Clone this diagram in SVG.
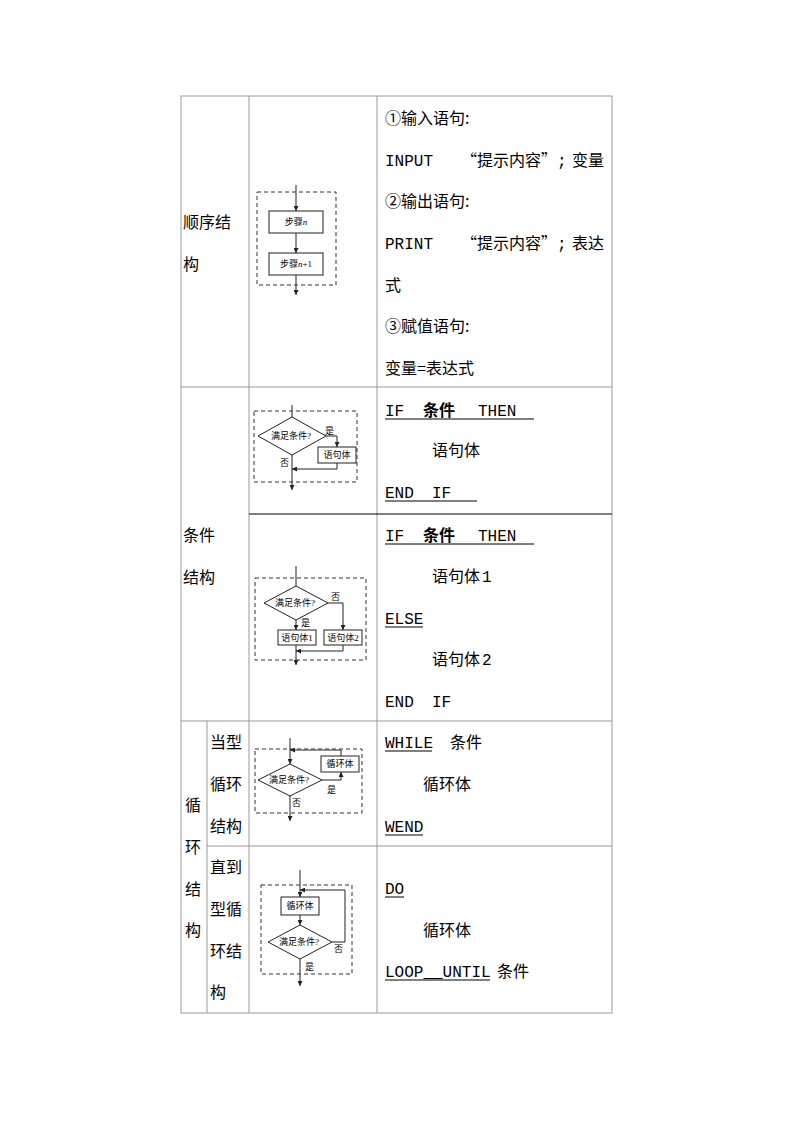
<svg xmlns="http://www.w3.org/2000/svg" width="794" height="1123" viewBox="0 0 794 1123">
<style>
.t{font-family:"Liberation Mono","Noto Sans CJK SC",monospace;font-size:16px;fill:#000}
.c{font-family:"Noto Sans CJK SC",sans-serif;font-size:16px;fill:#000}
.s{font-family:"Liberation Serif","Noto Sans CJK SC",serif;font-size:9px;fill:#000}
.g{stroke:#999;stroke-width:1;fill:none}
.d{stroke:#333;stroke-width:1;stroke-dasharray:4,3;fill:none}
.l{stroke:#222;stroke-width:1;fill:none}
.b{stroke:#222;stroke-width:1;fill:#fff}
.u{stroke:#000;stroke-width:1}
</style>
<defs><marker id="a" viewBox="0 0 6 6" refX="6" refY="3" markerWidth="5" markerHeight="5" orient="auto"><path d="M0,0L6,3L0,6z" fill="#222"/></marker></defs>
<g id="table">
<rect x="181" y="96" width="431" height="917" class="g"/>
<line x1="249" y1="96" x2="249" y2="1013" class="g"/>
<line x1="377" y1="96" x2="377" y2="1013" class="g"/>
<line x1="181" y1="387" x2="612" y2="387" class="g"/>
<line x1="249" y1="514" x2="612" y2="514" stroke="#000" stroke-width="1.2"/>
<line x1="181" y1="721" x2="612" y2="721" class="g"/>
<line x1="207" y1="721" x2="207" y2="1013" class="g"/>
<line x1="207" y1="846" x2="612" y2="846" class="g"/>
</g>
<g id="labels">
<text class="c" x="183" y="228">顺序结</text><text class="c" x="183" y="270">构</text>
<text class="c" x="183" y="541">条件</text><text class="c" x="183" y="583">结构</text>
<text class="c" x="185" y="811">循</text><text class="c" x="185" y="853">环</text><text class="c" x="185" y="895">结</text><text class="c" x="185" y="936">构</text>
<text class="c" x="210" y="748">当型</text><text class="c" x="210" y="790">循环</text><text class="c" x="210" y="832">结构</text>
<text class="c" x="210" y="873">直到</text><text class="c" x="210" y="915">型循</text><text class="c" x="210" y="957">环结</text><text class="c" x="210" y="998">构</text>
</g>
<g id="code">
<text class="c" x="385" y="124">①输入语句:</text>
<text class="t" x="385" y="166">INPUT</text><text class="c" x="461" y="166">“提示内容”</text><text class="t" x="557" y="166">;</text><text class="c" x="572" y="166">变量</text>
<text class="c" x="385" y="207">②输出语句:</text>
<text class="t" x="385" y="249">PRINT</text><text class="c" x="461" y="249">“提示内容”</text><text class="t" x="557" y="249">;</text><text class="c" x="572" y="249">表达</text>
<text class="c" x="385" y="291">式</text>
<text class="c" x="385" y="332">③赋值语句:</text>
<text class="c" x="385" y="374">变量=表达式</text>

<text class="t" x="385" y="416">IF</text><text class="c" x="423" y="416" font-weight="bold">条件</text><text class="t" x="478" y="416">THEN</text>
<line x1="385" y1="419" x2="534" y2="419" class="u"/>
<text class="c" x="432" y="456">语句体</text>
<text class="t" x="385" y="498">END</text><text class="t" x="432" y="498">IF</text>
<line x1="385" y1="501" x2="477" y2="501" class="u"/>

<text class="t" x="385" y="541">IF</text><text class="c" x="423" y="541" font-weight="bold">条件</text><text class="t" x="478" y="541">THEN</text>
<line x1="385" y1="544" x2="534" y2="544" class="u"/>
<text class="c" x="432" y="582">语句体</text><text class="t" x="482" y="582">1</text>
<text class="t" x="385" y="624">ELSE</text><line x1="385" y1="627" x2="423" y2="627" class="u"/>
<text class="c" x="432" y="665">语句体</text><text class="t" x="482" y="665">2</text>
<text class="t" x="385" y="707">END</text><text class="t" x="432" y="707">IF</text>

<text class="t" x="385" y="748">WHILE</text><line x1="385" y1="751" x2="432" y2="751" class="u"/><text class="c" x="450" y="748">条件</text>
<text class="c" x="423" y="790">循环体</text>
<text class="t" x="385" y="832">WEND</text><line x1="385" y1="835" x2="423" y2="835" class="u"/>
<text class="t" x="385" y="894">DO</text><line x1="385" y1="897" x2="404" y2="897" class="u"/>
<text class="c" x="423" y="936">循环体</text>
<text class="t" x="385" y="977">LOOP__UNTIL</text><line x1="385" y1="980" x2="490" y2="980" class="u"/><text class="c" x="497" y="977">条件</text>
</g>
<g id="connectors">
<!-- 1 -->
<line x1="296" y1="185" x2="296" y2="211" class="l" marker-end="url(#a)"/>
<line x1="296" y1="233" x2="296" y2="253" class="l" marker-end="url(#a)"/>
<line x1="296" y1="275" x2="296" y2="295" class="l" marker-end="url(#a)"/>
<!-- 2 -->
<line x1="292" y1="405" x2="292" y2="417" class="l"/>
<polyline points="326,436 337,436 337,447" class="l" marker-end="url(#a)"/>
<polyline points="337,463 337,469 292,469" class="l" marker-end="url(#a)"/>
<line x1="292" y1="455" x2="292" y2="490" class="l" marker-end="url(#a)"/>
<!-- 3 -->
<line x1="296" y1="566" x2="296" y2="586" class="l"/>
<polyline points="328,603 343,603 343,630" class="l" marker-end="url(#a)"/>
<line x1="296" y1="620" x2="296" y2="630" class="l" marker-end="url(#a)"/>
<polyline points="343,645 343,651 296,651" class="l" marker-end="url(#a)"/>
<line x1="296" y1="645" x2="296" y2="665" class="l" marker-end="url(#a)"/>
<!-- 4 -->
<line x1="290" y1="738" x2="290" y2="764" class="l" marker-end="url(#a)"/>
<polyline points="341,756 341,750 290,750" class="l" marker-end="url(#a)"/>
<polyline points="322,780 341,780 341,772" class="l" marker-end="url(#a)"/>
<line x1="290" y1="796" x2="290" y2="821" class="l" marker-end="url(#a)"/>
<!-- 5 -->
<line x1="300" y1="870" x2="300" y2="897" class="l" marker-end="url(#a)"/>
<line x1="300" y1="915" x2="300" y2="925" class="l" marker-end="url(#a)"/>
<polyline points="332,942 345,942 345,890 300,890" class="l" marker-end="url(#a)"/>
<line x1="300" y1="959" x2="300" y2="986" class="l" marker-end="url(#a)"/>
</g>
<g id="fc1"><rect x="257" y="192" width="79" height="93" class="d"/>
<rect x="269" y="211" width="54" height="22" class="b"/><text class="s" x="296" y="225" text-anchor="middle">步骤<tspan font-style="italic">n</tspan></text>
<rect x="269" y="253" width="54" height="22" class="b"/><text class="s" x="296" y="267" text-anchor="middle">步骤<tspan font-style="italic">n</tspan>+1</text></g>
<g id="fc2"><rect x="254" y="411" width="103" height="71" class="d"/>
<polygon points="292,417 326,436 292,455 258,436" class="b"/><text class="s" x="291" y="439" text-anchor="middle">满足条件?</text>
<text class="s" x="325" y="434">是</text><text class="s" x="280" y="466">否</text>
<rect x="318" y="447" width="38" height="16" class="b"/><text class="s" x="337" y="458" text-anchor="middle">语句体</text></g>
<g id="fc3"><rect x="255" y="578" width="111" height="82" class="d"/>
<polygon points="296,586 328,603 296,620 264,603" class="b"/><text class="s" x="295" y="606" text-anchor="middle">满足条件?</text>
<text class="s" x="331" y="600">否</text><text class="s" x="301" y="626">是</text>
<rect x="278" y="630" width="38" height="15" class="b"/><text class="s" x="297" y="641" text-anchor="middle">语句体1</text>
<rect x="324" y="630" width="38" height="15" class="b"/><text class="s" x="343" y="641" text-anchor="middle">语句体2</text></g>
<g id="fc4"><rect x="255" y="749" width="107" height="64" class="d"/>
<polygon points="290,764 322,780 290,796 258,780" class="b"/><text class="s" x="289" y="783" text-anchor="middle">满足条件?</text>
<rect x="321" y="756" width="38" height="16" class="b"/><text class="s" x="340" y="767" text-anchor="middle">循环体</text>
<text class="s" x="327" y="793">是</text><text class="s" x="292" y="806">否</text></g>
<g id="fc5"><rect x="261" y="885" width="91" height="89" class="d"/>
<rect x="281" y="897" width="38" height="18" class="b"/><text class="s" x="300" y="909" text-anchor="middle">循环体</text>
<polygon points="300,925 332,942 300,959 268,942" class="b"/><text class="s" x="299" y="945" text-anchor="middle">满足条件?</text>
<text class="s" x="334" y="952">否</text><text class="s" x="305" y="970">是</text></g>
</svg>
